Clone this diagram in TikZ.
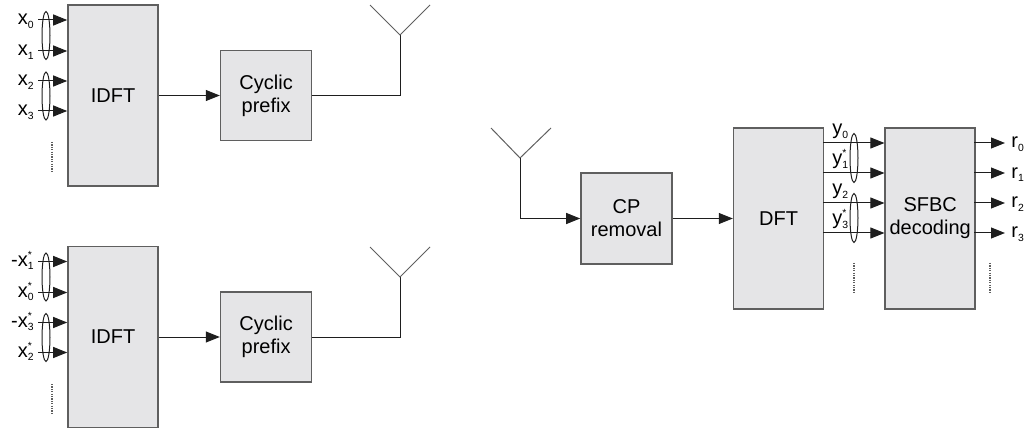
\documentclass[tikz,border=0pt]{standalone}
\usepackage{fontspec}
\setmainfont{Liberation Sans}
\usetikzlibrary{positioning, calc, arrows.meta}
\definecolor{blockfill}{RGB}{229,229,231}
\definecolor{blockline}{RGB}{95,95,95}
\definecolor{wire}{RGB}{30,30,30}
\newcommand{\lo}[1]{\raisebox{-1.6pt}{\fontsize{5.2}{6}\selectfont #1}}
\newcommand{\conjsym}[2]{#1\rlap{\raisebox{4.2pt}{\fontsize{5.2}{6}\selectfont *}}\lo{#2}}

\tikzset{
	block/.style={draw=blockline, fill=blockfill, line width=0.8pt, align=center, inner sep=0pt},
	tallblock/.style={block, minimum width=45pt, minimum height=90.5pt},
	sqblock/.style={block, minimum width=45.5pt, minimum height=45pt},
	sig/.style={draw=wire, line width=0.5pt, -{Triangle[length=7pt,width=5.5pt]}},
	wireline/.style={draw=wire, line width=0.5pt},
	aerial/.style={draw=blockline, line width=0.5pt},
	pairring/.style={draw=wire, line width=0.5pt},
	moredots/.style={draw=blockline, line width=0.6pt, dash pattern=on 0.6pt off 0.6pt},
	sym/.style={inner sep=0pt, font=\fontsize{10}{12}\selectfont}
}

\begin{document}
\begin{tikzpicture}[x=0.5pt, y=-0.5pt, font=\fontsize{10}{11.5}\selectfont]
	\useasboundingbox (0,0) rectangle (1024,433);

	% transmitter, antenna 1
	\node[tallblock] (idftA) at (113,95.5) {IDFT};
	\node[sqblock, right=30.5pt of idftA] (cpA) {Cyclic\\prefix};
	\foreach \i/\y/\t in {0/20/{x\lo{0}}, 1/51/{x\lo{1}}, 2/81/{x\lo{2}}, 3/111/{x\lo{3}}} {
		\coordinate (inA\i) at (38,\y);
		\draw[sig] (inA\i) -- (inA\i -| idftA.west);
		\node[sym, anchor=base east] (lblA\i) at (34,\y+5) {\t};
	}
	\draw[pairring] ($(inA0)!0.5!(inA1)+(8,0)$) ellipse (4 and 24);
	\draw[pairring] ($(inA2)!0.5!(inA3)+(8,0)$) ellipse (4 and 24);
	\draw[moredots] (52,142) -- (52,172);
	\draw[sig] (idftA) -- (cpA);
	\coordinate (antA) at (400,35);
	\draw[wireline] (cpA.east) -| (antA);
	\draw[aerial] (370,5) -- (antA) -- (430,5);

	% transmitter, antenna 2
	\node[tallblock] (idftB) at (113,337) {IDFT};
	\node[sqblock, right=30.5pt of idftB] (cpB) {Cyclic\\prefix};
	\foreach \i/\y/\t in {0/261.5/{-\conjsym{x}{1}}, 1/292.5/{\conjsym{x}{0}}, 2/322.5/{-\conjsym{x}{3}}, 3/352.5/{\conjsym{x}{2}}} {
		\coordinate (inB\i) at (38,\y);
		\draw[sig] (inB\i) -- (inB\i -| idftB.west);
		\node[sym, anchor=base east] (lblB\i) at (34,\y+5) {\t};
	}
	\draw[pairring] ($(inB0)!0.5!(inB1)+(8,0)$) ellipse (4 and 24);
	\draw[pairring] ($(inB2)!0.5!(inB3)+(8,0)$) ellipse (4 and 24);
	\draw[moredots] (52,384) -- (52,414);
	\draw[sig] (idftB) -- (cpB);
	\coordinate (antB) at (400,277);
	\draw[wireline] (cpB.east) -| (antB);
	\draw[aerial] (370,247) -- (antB) -- (430,247);

	% receiver
	\node[sqblock, minimum height=45.5pt] (cpr) at (626.5,218.5) {CP\\removal};
	\node[tallblock, right=30pt of cpr] (dft) {DFT};
	\node[tallblock, right=30pt of dft] (sfbc) {SFBC\\decoding};
	\coordinate (antR) at (520,158);
	\draw[aerial] (491,128) -- (antR) -- (551,128);
	\draw[sig] (antR) |- (cpr.west);
	\draw[sig] (cpr) -- (dft);
	\foreach \i/\y/\t/\r in {0/143/{y\lo{0}}/{r\lo{0}}, 1/173/{\conjsym{y}{1}}/{r\lo{1}}, 2/203/{y\lo{2}}/{r\lo{2}}, 3/233/{\conjsym{y}{3}}/{r\lo{3}}} {
		\coordinate (outD\i) at (823,\y);
		\draw[sig] (outD\i) -- (outD\i -| sfbc.west);
		\node[sym, anchor=base west] (lblY\i) at (832,\y-8) {\t};
		\coordinate (outS\i) at (974,\y);
		\draw[sig] (outS\i) -- (1005,\y) coordinate (tipS\i);
		\node[sym, anchor=base west] (lblR\i) at ($(tipS\i)+(6,5)$) {\r};
	}
	\draw[pairring] ($(outD0)!0.5!(outD1)+(31,0)$) ellipse (4 and 24.5);
	\draw[pairring] ($(outD2)!0.5!(outD3)+(31,0)$) ellipse (4 and 24.5);
	\draw[moredots] (854,263) -- (854,293);
	\draw[moredots] (990,263) -- (990,293);
\end{tikzpicture}
\end{document}
